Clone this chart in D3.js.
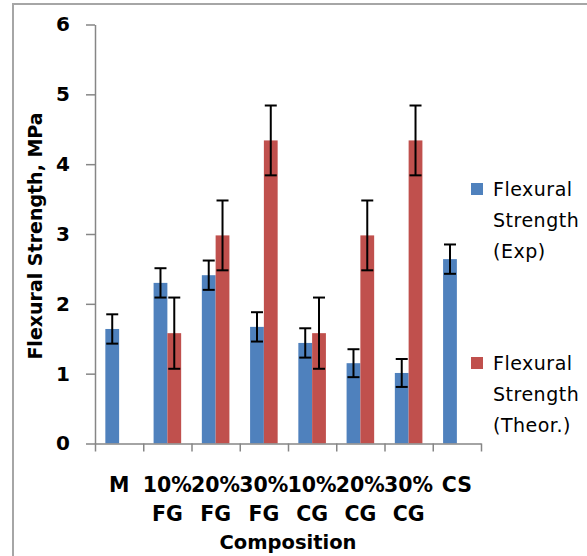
<!DOCTYPE html>
<html>
<head>
<meta charset="utf-8">
<script src="https://cdn.jsdelivr.net/npm/d3@7"></script>
<style>
  body { margin: 0; background: #fff; }
  svg { display: block; }
</style>
</head>
<body>
<svg id="chart" width="587" height="556"></svg>
<script>
const categories = ["M", "10% FG", "20% FG", "30% FG", "10% CG", "20% CG", "30% CG", "CS"];
const expValues = [1.64, 2.30, 2.41, 1.67, 1.44, 1.15, 1.01, 2.64];
const expErrors = [0.21, 0.21, 0.21, 0.21, 0.21, 0.20, 0.20, 0.21];
const theorValues = [null, 1.58, 2.98, 4.34, 1.58, 2.98, 4.34, null];
const theorErrors = [null, 0.51, 0.50, 0.50, 0.51, 0.50, 0.50, null];
const yTicks = [0, 1, 2, 3, 4, 5, 6];
const seriesNames = ["Flexural Strength (Exp)", "Flexural Strength (Theor.)"];
const colors = ["#4f81bd", "#c0504d"];

const svg = d3.select("#chart");
const plotLeft = 95, plotRight = 481, plotTop = 24.5, plotBottom = 443.5;

// outer frame
svg.append("rect")
  .attr("x", 13).attr("y", 4).attr("width", 620).attr("height", 620)
  .attr("fill", "none").attr("stroke", "#a6a6a6").attr("stroke-width", 2);

const x0 = d3.scaleBand().domain(categories).range([plotLeft, plotRight]).padding(0);
const x1 = d3.scaleBand().domain([0, 1]).range([0, x0.bandwidth()]).paddingInner(0).paddingOuter(0.75);
const y = d3.scaleLinear().domain([0, 6]).range([plotBottom, plotTop]);
const xEdge = d3.scaleLinear().domain([0, categories.length]).range([plotLeft, plotRight]);

const rows = categories.map((c, i) => ({
  cat: c,
  vals: [
    { s: 0, v: expValues[i], e: expErrors[i] },
    { s: 1, v: theorValues[i], e: theorErrors[i] }
  ].filter(d => d.v != null)
}));

const groups = svg.append("g").selectAll("g")
  .data(rows).join("g")
  .attr("transform", d => `translate(${x0(d.cat)},0)`);

groups.selectAll("rect")
  .data(d => d.vals).join("rect")
  .attr("x", d => x1(d.s))
  .attr("width", x1.bandwidth())
  .attr("y", d => y(d.v))
  .attr("height", d => y(0) - y(d.v))
  .attr("fill", d => colors[d.s]);

// error bars
const err = groups.selectAll("g.err")
  .data(d => d.vals).join("g").attr("class", "err")
  .attr("stroke", "#000").attr("stroke-width", 2);
err.append("line")
  .attr("x1", d => x1(d.s) + x1.bandwidth() / 2)
  .attr("x2", d => x1(d.s) + x1.bandwidth() / 2)
  .attr("y1", d => y(d.v + d.e))
  .attr("y2", d => y(d.v - d.e));
[1, -1].forEach(k => {
  err.append("line")
    .attr("x1", d => x1(d.s) + x1.bandwidth() / 2 - 6)
    .attr("x2", d => x1(d.s) + x1.bandwidth() / 2 + 6)
    .attr("y1", d => y(d.v + k * d.e))
    .attr("y2", d => y(d.v + k * d.e));
});

// axes
const yAxis = svg.append("g")
  .attr("transform", `translate(${plotLeft},0)`)
  .call(d3.axisLeft(y).tickValues(yTicks).tickFormat(d3.format("d"))
    .tickSize(9).tickSizeOuter(0).tickPadding(16));
const xAxis = svg.append("g")
  .attr("transform", `translate(0,${plotBottom})`)
  .call(d3.axisBottom(xEdge).ticks(categories.length).tickSize(8).tickSizeOuter(0).tickFormat(""));
[yAxis, xAxis].forEach(a => {
  a.selectAll("path, line").attr("stroke", "#868686").attr("stroke-width", 1.5);
});
yAxis.selectAll("text")
  .attr("font-family", "DejaVu Sans").attr("font-weight", "bold")
  .attr("font-size", 20).attr("fill", "#000");

// category labels
const lab = svg.append("g")
  .attr("font-family", "DejaVu Sans").attr("font-weight", "bold")
  .attr("font-size", 20.5).attr("text-anchor", "middle");
lab.selectAll("text").data(categories).join("text")
  .each(function(d) {
    const cx = x0(d) + x0.bandwidth() / 2;
    d.split(" ").forEach((part, i) => {
      d3.select(this).append("tspan")
        .attr("x", cx)
        .attr("y", 492 + i * 29)
        .text(part);
    });
  });

svg.append("text")
  .attr("x", (plotLeft + plotRight) / 2).attr("y", 549)
  .attr("text-anchor", "middle")
  .attr("font-family", "DejaVu Sans").attr("font-weight", "bold").attr("font-size", 19.5)
  .text("Composition");

svg.append("text")
  .attr("transform", "translate(42,236) rotate(-90)")
  .attr("text-anchor", "middle")
  .attr("font-family", "DejaVu Sans").attr("font-weight", "bold").attr("font-size", 19)
  .text("Flexural Strength, MPa");

// legend
const legendTop = [183, 357];
const legend = svg.append("g").selectAll("g")
  .data(seriesNames).join("g")
  .attr("transform", (d, i) => `translate(471,${legendTop[i]})`);
legend.append("rect")
  .attr("width", 12).attr("height", 12)
  .attr("fill", (d, i) => colors[i]);
legend.append("text")
  .attr("font-family", "DejaVu Sans").attr("font-size", 19).attr("fill", "#000")
  .attr("letter-spacing", 0.5)
  .each(function(d) {
    d.split(" ").forEach((w, i) => {
      d3.select(this).append("tspan")
        .attr("x", 22).attr("y", 13 + i * 31)
        .text(w);
    });
  });
</script>
</body>
</html>
